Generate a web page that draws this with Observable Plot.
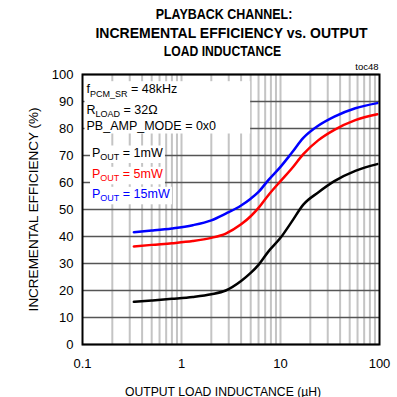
<!DOCTYPE html>
<html><head><meta charset="utf-8">
<script src="https://cdn.jsdelivr.net/npm/d3@7"></script>
<script src="https://cdn.jsdelivr.net/npm/@observablehq/plot@0.6"></script>
<style>
body{margin:0;background:#fff;font-family:"Liberation Sans",Arial,sans-serif;}
#title{height:60px;width:397px;position:relative;overflow:visible;font:bold 14.5px "Liberation Sans",Arial,sans-serif;color:#000;padding-top:5px;box-sizing:border-box;}
#title div{width:454px;text-align:center;white-space:nowrap;line-height:18.5px;transform-origin:227px 0;}
#chart svg{display:block;}
</style></head><body>
<div id="title">
<div style="transform:translateX(-3px) scaleX(0.86)">PLAYBACK CHANNEL:</div>
<div style="transform:translateX(4.5px) scaleX(0.965)">INCREMENTAL EFFICIENCY vs. OUTPUT</div>
<div style="transform:translateX(-4.5px) scaleX(0.84)">LOAD INDUCTANCE</div>
</div>
<div id="chart"></div>
<script>
// ---- data ----
const inductance = [0.33, 0.5, 0.8, 1.3, 2, 2.8, 4, 5, 6, 7.5, 10, 13, 17, 24, 35, 57, 95];
const eff1mW  = [15.8, 16.3, 16.9, 17.6, 18.6, 20.0, 23.5, 26.5, 29.5, 34.3, 39.5, 45.5, 51.8, 56.3, 60.5, 64.3, 66.8];
const eff5mW  = [36.3, 36.9, 37.5, 38.3, 39.5, 41.1, 44.5, 47.5, 50.6, 55.2, 60.5, 65.2, 70.5, 75.6, 79.5, 83.1, 85.3];
const eff15mW = [41.6, 42.2, 43.0, 44.2, 46.0, 48.5, 51.5, 54.0, 56.5, 60.8, 65.8, 71.0, 76.5, 81.0, 84.4, 87.5, 89.4];
const seriesNames = ["1mW", "5mW", "15mW"];
const seriesColors = ["#000000", "#ff0000", "#0000ff"];
const xTickLabels = [0.1, 1, 10, 100];
const yTickLabels = [0, 10, 20, 30, 40, 50, 60, 70, 80, 90, 100];
const conditionLines = ["f_{PCM_SR} = 48kHz", "R_{LOAD} = 32\u03A9", "PB_AMP_MODE = 0x0"];
const seriesLabels = ["P_{OUT} = 1mW", "P_{OUT} = 5mW", "P_{OUT} = 15mW"];
const titleNote = "toc48";
const xLabel = "OUTPUT LOAD INDUCTANCE (\u00B5H)";
const yLabel = "INCREMENTAL EFFICIENCY (%)";

const allSeries = [eff1mW, eff5mW, eff15mW];
const rows = allSeries.flatMap((vals, s) => inductance.map((x, i) => ({x, y: vals[i], s: seriesNames[s]})));
const xGrid = d3.scaleLog().domain([0.1, 100]).ticks().filter(v => v > 0.1 && v < 100);

const condDy = [18.7, 39.3, 55];
const serDy = [82, 103.3, 123.3];

const marks = [
  Plot.ruleX(xGrid, {stroke: "#c4c4c4", strokeWidth: 2}),
  Plot.ruleY(yTickLabels, {stroke: "#555", strokeWidth: 1.3}),
  Plot.line(rows, {x: "x", y: "y", z: "s", stroke: "s", strokeWidth: 2.5, curve: "monotone-x"}),
  Plot.frame({stroke: "#000", strokeWidth: 2}),
  Plot.text([titleNote], {text: d => d, frameAnchor: "top-right", dy: -5, dx: -1, lineAnchor: "bottom", textAnchor: "end", fontSize: 9.5, fill: "#000"}),
  Plot.text([yLabel], {text: d => d, frameAnchor: "left", dx: -49, rotate: -90, textAnchor: "middle", lineAnchor: "middle", fontSize: 13.5, fill: "#000"}),
  Plot.text([xLabel], {text: d => d, frameAnchor: "bottom", dx: -8, dy: 51, textAnchor: "middle", lineAnchor: "bottom", fontSize: 12.2, fill: "#000"})
];
conditionLines.forEach((t, i) => marks.push(
  Plot.text([t], {text: d => d, frameAnchor: "top-left", dx: 4, dy: condDy[i], textAnchor: "start", lineAnchor: "bottom", fontSize: 12.5, fill: "#000"})
));
seriesLabels.forEach((t, i) => marks.push(
  Plot.text([t], {text: d => d, frameAnchor: "top-left", dx: 9.5, dy: serDy[i], textAnchor: "start", lineAnchor: "bottom", fontSize: 12.5, fill: seriesColors[i]})
));

const chart = Plot.plot({
  width: 397, height: 337,
  marginTop: 14, marginBottom: 53, marginLeft: 82, marginRight: 18,
  style: {fontFamily: "Liberation Sans, Arial, sans-serif", fontSize: "13px", color: "#000", background: "#fff"},
  x: {type: "log", domain: [0.1, 100], ticks: xTickLabels, tickFormat: d => d3.format("~g")(d), tickSize: 0, tickPadding: 14, label: null},
  y: {domain: [0, 100], ticks: yTickLabels, tickSize: 0, tickPadding: 9, label: null},
  color: {domain: seriesNames, range: seriesColors},
  marks
});
document.getElementById("chart").appendChild(chart);

// subscripts and white label boxes
const svg = chart.tagName.toLowerCase() === "svg" ? chart : chart.querySelector("svg");
const labelTexts = [];
d3.select(svg).selectAll("text").each(function() {
  const s = this.textContent;
  if (conditionLines.includes(s) || seriesLabels.includes(s)) labelTexts.push(this);
  const m = s.match(/^(.*?)_\{(.*?)\}(.*)$/);
  if (m) {
    const el = d3.select(this);
    el.text(null);
    el.append("tspan").text(m[1]);
    el.append("tspan").attr("dy", 3.5).attr("font-size", 9).text(m[2]);
    el.append("tspan").attr("dy", -3.5).text(m[3]);
  }
});
const sr = svg.getBoundingClientRect();
const boxes = labelTexts.map(t => {
  const r = t.getBoundingClientRect();
  return {x: r.left - sr.left, y: r.top - sr.top, w: r.width, h: r.height, cond: conditionLines.some(c => c.replace(/[_{}]/g, "") === t.textContent.replace(/[_{}]/g, "")) || t.textContent.startsWith("PB") || t.textContent.startsWith("f") || t.textContent.startsWith("R")};
});
const cond = boxes.filter(b => b.cond);
const ser = boxes.filter(b => !b.cond);
const firstG = labelTexts[0].closest("g") || labelTexts[0];
const parent = firstG.parentNode;
function addRect(x, y, w, h) {
  const r = document.createElementNS("http://www.w3.org/2000/svg", "rect");
  r.setAttribute("x", x); r.setAttribute("y", y); r.setAttribute("width", w); r.setAttribute("height", h);
  r.setAttribute("fill", "#fff");
  parent.insertBefore(r, firstG);
}
if (cond.length) {
  const x0 = d3.min(cond, b => b.x) - 2, y0 = d3.min(cond, b => b.y) - 1;
  const x1 = d3.max(cond, b => b.x + b.w) + 34, y1 = d3.max(cond, b => b.y + b.h) + 1;
  addRect(x0, y0, x1 - x0, y1 - y0);
}
ser.forEach(b => addRect(b.x - 2, b.y, b.w + 4, b.h + 1));
</script>
</body></html>
